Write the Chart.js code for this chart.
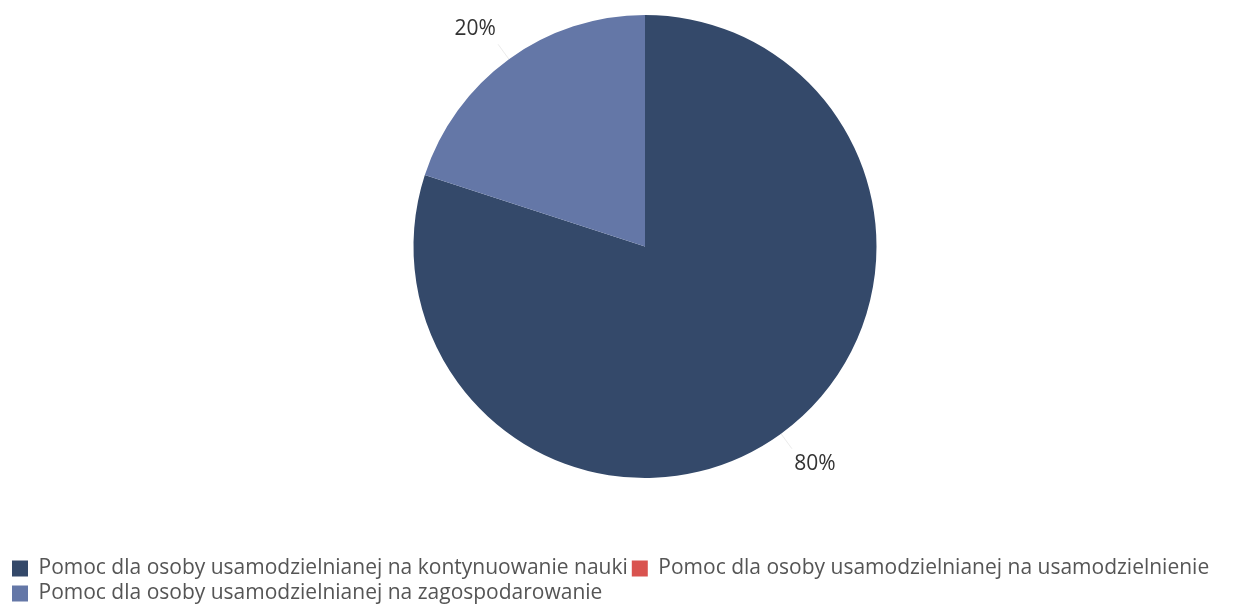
<!DOCTYPE html>
<html>
<head>
<meta charset="utf-8">
<script src="https://cdn.jsdelivr.net/npm/chart.js@4/dist/chart.umd.min.js"></script>
<style>
  html, body { margin: 0; padding: 0; background: #fff; }
  #wrap { width: 1254px; height: 616px; }
</style>
</head>
<body>
<div id="wrap"><canvas id="pieChart" width="1254" height="616"></canvas></div>
<script>
// Kategorie i wartosci (procenty)
const categories = [
    'Pomoc dla osoby usamodzielnianej na kontynuowanie nauki',
    'Pomoc dla osoby usamodzielnianej na usamodzielnienie',
    'Pomoc dla osoby usamodzielnianej na zagospodarowanie'
];
const values = [80, 0, 20];
const colors = ['#34496a', '#d9534f', '#6477a7'];

// Puste pola w ukladzie: odsuniecie kola w prawo i odstep nad legenda
function spacer(position, size) {
    return {
        position: position,
        weight: 0,
        fullSize: false,
        options: {},
        left: 0, top: 0, right: 0, bottom: 0, width: 0, height: 0,
        isHorizontal() { return position === 'top' || position === 'bottom'; },
        update(maxW, maxH) {
            if (this.isHorizontal()) { this.width = maxW; this.height = size; }
            else { this.width = size; this.height = maxH; }
        },
        draw() {}
    };
}
const spacers = {
    id: 'spacers',
    beforeInit(chart) {
        Chart.layouts.addBox(chart, spacer('left', 28));
        Chart.layouts.addBox(chart, spacer('bottom', 76));
    }
};

// Etykiety procentowe na zewnatrz wykresu
const outsideLabels = {
    id: 'outsideLabels',
    afterDatasetsDraw(chart) {
        const ctx = chart.ctx;
        const meta = chart.getDatasetMeta(0);
        const total = values.reduce((a, b) => a + b, 0);
        ctx.save();
        ctx.font = '21px "Open Sans"';
        ctx.fillStyle = '#333';
        ctx.textAlign = 'center';
        ctx.textBaseline = 'middle';
        meta.data.forEach((arc, i) => {
            if (!values[i]) return;
            const mid = (arc.startAngle + arc.endAngle) / 2;
            const r = arc.outerRadius;
            const cx = arc.x, cy = arc.y;
            const cos = Math.cos(mid), sin = Math.sin(mid);
            // delikatna linia prowadzaca
            ctx.strokeStyle = 'rgba(215,215,215,0.5)';
            ctx.lineWidth = 1;
            ctx.beginPath();
            ctx.moveTo(cx + cos * r, cy + sin * r);
            ctx.lineTo(cx + cos * r * 1.08, cy + sin * r * 1.08);
            ctx.stroke();
            const pct = Math.round(values[i] / total * 100) + '%';
            const shift = cos < 0 ? -12 : 12;
            ctx.fillText(pct, cx + cos * r * 1.16 + shift, cy + sin * r * 1.16);
        });
        ctx.restore();
    }
};

const ctx = document.getElementById('pieChart').getContext('2d');
new Chart(ctx, {
    type: 'pie',
    data: {
        labels: categories,
        datasets: [{
            data: values,
            backgroundColor: colors,
            borderWidth: 0
        }]
    },
    options: {
        responsive: false,
        animation: false,
        layout: { padding: { top: 15, left: 8, right: 0, bottom: 2 } },
        plugins: {
            tooltip: { enabled: false },
            legend: {
                position: 'bottom',
                align: 'start',
                labels: {
                    boxWidth: 16,
                    boxHeight: 16,
                    padding: 4,
                    color: '#555',
                    font: { family: '"Open Sans"', size: 21 }
                }
            }
        }
    },
    plugins: [spacers, outsideLabels]
});
</script>
</body>
</html>
